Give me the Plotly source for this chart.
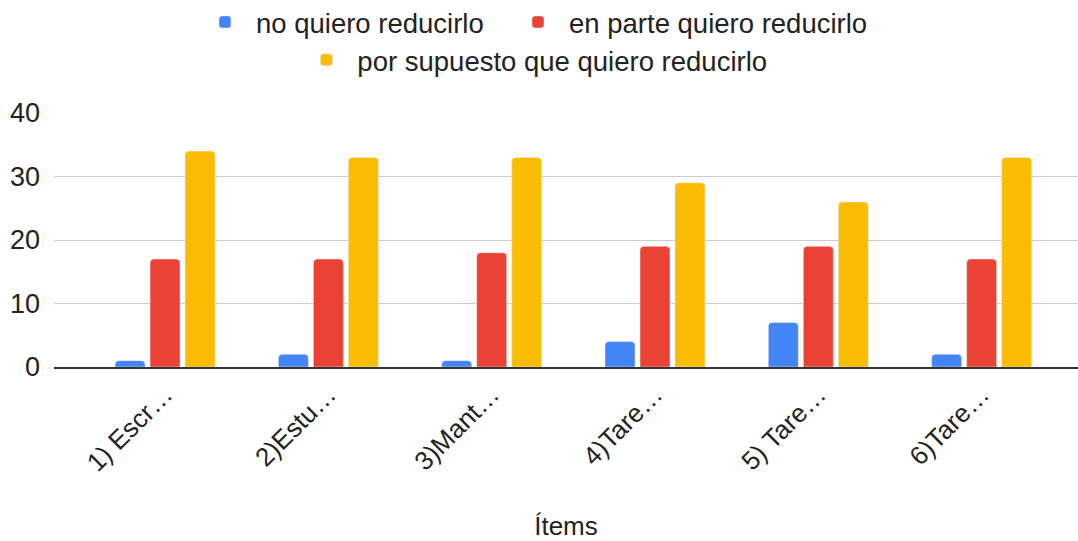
import plotly.graph_objects as go

# Survey items (labels as shown on the axis) and response counts
items = ["1) Escr…", "2)Estu…", "3)Mant…", "4)Tare…", "5) Tare…", "6)Tare…"]
no_quiero = [1, 2, 1, 4, 7, 2]
en_parte = [17, 17, 18, 19, 19, 17]
por_supuesto = [34, 33, 33, 29, 26, 33]
y_ticks = [0, 10, 20, 30, 40]

FONT = "Arial, 'Liberation Sans', sans-serif"
TXT = "#222222"

fig = go.Figure()
fig.add_trace(go.Bar(x=items, y=no_quiero, name="no quiero reducirlo",
                     marker=dict(color="#4285F4", cornerradius=4), legend="legend"))
fig.add_trace(go.Bar(x=items, y=en_parte, name="en parte quiero reducirlo",
                     marker=dict(color="#EA4335", cornerradius=4), legend="legend3"))
fig.add_trace(go.Bar(x=items, y=por_supuesto, name="por supuesto que quiero reducirlo",
                     marker=dict(color="#FBBC04", cornerradius=4), legend="legend2"))

legend_common = dict(orientation="h", yanchor="middle", xanchor="left",
                     itemwidth=52,
                     font=dict(family=FONT, size=27.5, color=TXT),
                     bgcolor="rgba(0,0,0,0)", itemclick=False, itemdoubleclick=False)

fig.update_layout(
    width=1078, height=541,
    margin=dict(l=54, r=0, t=113, b=174, autoexpand=False),
    paper_bgcolor="white", plot_bgcolor="white",
    font=dict(family=FONT, size=26, color=TXT),
    showlegend=True,
    barmode="group", bargap=0.357, bargroupgap=0.143,
    legend=dict(x=0.1367, y=1.358, **legend_common),
    legend3=dict(x=0.4424, y=1.358, **legend_common),
    legend2=dict(x=0.2357, y=1.209, **legend_common),
    xaxis=dict(
        range=[-0.68, 5.59], tickangle=-45, ticks="", showgrid=False,
        showline=True, linecolor="#333333", linewidth=2,
        tickfont=dict(family=FONT, size=26, color=TXT),
        ticklabelstandoff=0,
        title=dict(text="Ítems", standoff=50, font=dict(family=FONT, size=26, color=TXT)),
        automargin=False,
    ),
    yaxis=dict(
        range=[0, 40], tickvals=y_ticks, ticks="", showgrid=True,
        gridcolor="#cccccc", gridwidth=1, zeroline=False,
        tickfont=dict(family=FONT, size=27, color=TXT),
        ticklabelstandoff=13, automargin=False,
    ),
)

fig.write_html("out.html")
